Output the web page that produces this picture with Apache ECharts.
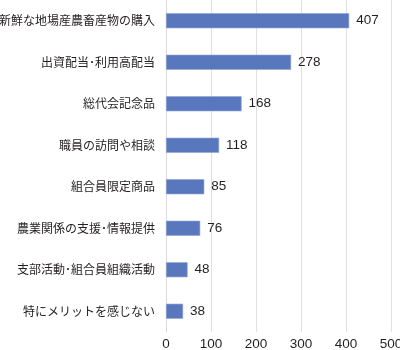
<!DOCTYPE html>
<html><head><meta charset="utf-8">
<script src="https://cdn.jsdelivr.net/npm/echarts@6/dist/echarts.min.js"></script>
<style>html,body{margin:0;padding:0;background:#fff}#c{width:400px;height:350px}</style>
</head><body><div id="c"></div>
<script>
const categories = ['新鮮な地場産農畜産物の購入','出資配当･利用高配当','総代会記念品','職員の訪問や相談','組合員限定商品','農業関係の支援･情報提供','支部活動･組合員組織活動','特にメリットを感じない'];
const values = [407, 278, 168, 118, 85, 76, 48, 38];
const xTicks = [0, 100, 200, 300, 400, 500];
const jpFont = '"Noto Sans CJK JP", sans-serif';
const numFont = '"Liberation Sans", Arial, sans-serif';
const chart = echarts.init(document.getElementById('c'), null, {renderer:'canvas'});
chart.setOption({
  animation: false,
  grid: {left: 166, right: 9, top: 0, bottom: 18, containLabel: false, outerBoundsMode: 'none'},
  xAxis: {
    type: 'value', min: xTicks[0], max: xTicks[xTicks.length-1], interval: 100,
    axisLine: {show: false}, axisTick: {show: false},
    splitLine: {show: true, lineStyle: {color: '#e0e0e0', width: 1}},
    axisLabel: {color: '#231f20', fontSize: 13.5, fontFamily: numFont, margin: 5}
  },
  yAxis: {
    type: 'category', data: categories, inverse: true,
    axisLine: {show: true, lineStyle: {color: '#d9d9d9'}}, axisTick: {show: false},
    axisLabel: {color: '#231f20', fontSize: 12, fontFamily: jpFont, margin: 11}
  },
  series: [{
    type: 'bar', data: values, barWidth: 15,
    itemStyle: {color: '#5877bd', borderColor: '#8ea3d6', borderWidth: 0.6},
    label: {show: true, position: 'right', distance: 7, color: '#231f20', fontSize: 13.5, fontFamily: numFont}
  }]
});
</script></body></html>
